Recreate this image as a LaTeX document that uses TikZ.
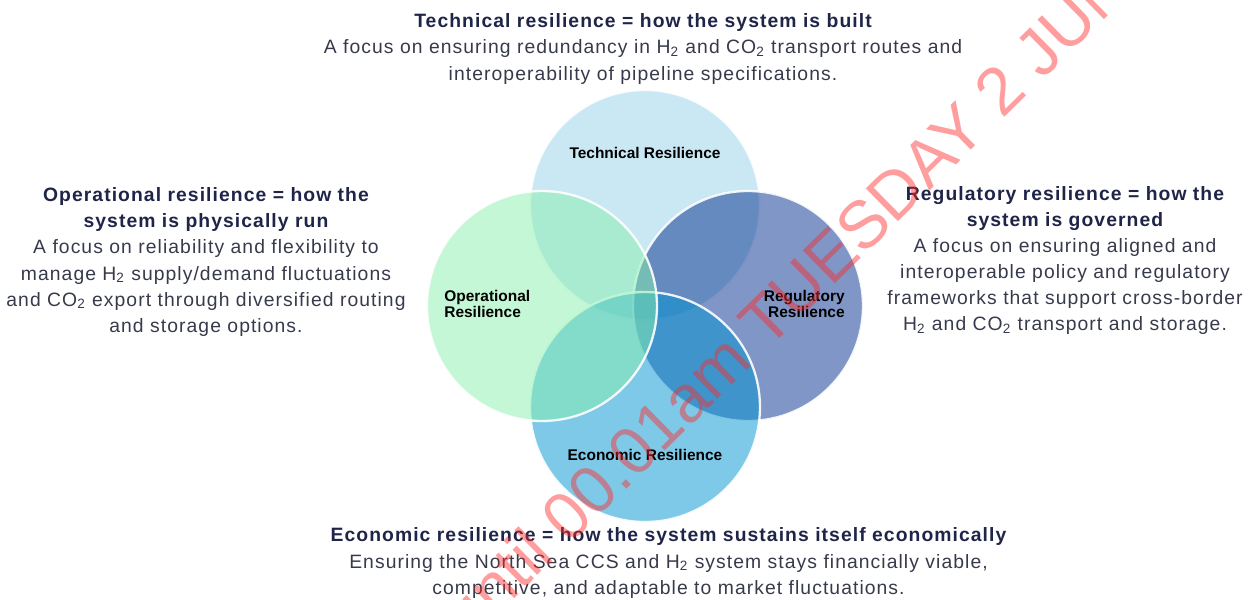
\documentclass[tikz,border=0pt]{standalone}
\usepackage{fontspec}
\setmainfont{Liberation Sans}
\newfontfamily\widefont[LetterSpace=5.5]{Liberation Sans}
\usetikzlibrary{positioning}

\definecolor{techblue}{RGB}{147,209,231}
\definecolor{regnavy}{RGB}{0,45,141}
\definecolor{econblue}{RGB}{0,147,209}
\definecolor{opmint}{RGB}{135,239,173}
\definecolor{headnavy}{RGB}{31,37,72}
\definecolor{bodygrey}{RGB}{55,58,75}
\definecolor{stampred}{RGB}{255,40,40}

\newcommand{\Htwo}{H\textsubscript{2}}
\newcommand{\COtwo}{CO\textsubscript{2}}
\newcommand{\hd}[1]{\textcolor{headnavy}{\bfseries #1}}

\tikzset{
  ring/.style  = {circle, draw=white, line width=1.3pt, fill opacity=0.5, draw opacity=0.9, minimum size=46mm, inner sep=0},
  lbl/.style   = {font=\fontsize{8.8}{9.4}\selectfont\bfseries, text=black, inner sep=0},
  blurb/.style = {align=center, text=bodygrey, inner sep=0, font=\widefont\fontsize{11}{14.8}\selectfont},
  wmark/.style = {text=stampred, text opacity=0.45, inner sep=0, font=\fontsize{38}{40}\selectfont}
}

\begin{document}
\begin{tikzpicture}

  \useasboundingbox (-12.9,-5.86) rectangle (12.1,6.12);
  \clip (-12.9,-5.86) rectangle (12.1,6.12);

  % circles
  \node[ring, fill=techblue] (tech) at ( 0.00, 2.02) {};
  \node[ring, fill=regnavy]  (reg)  at ( 2.06, 0.00) {};
  \node[ring, fill=econblue] (econ) at ( 0.00,-2.02) {};
  \node[ring, fill=opmint]   (oper) at (-2.06, 0.00) {};

  % labels inside
  \node[lbl]                         (techl) at ( 0.00, 3.06) {Technical Resilience};
  \node[lbl, anchor=west, align=left]  (operl) at (-4.02, 0.04) {Operational\\Resilience};
  \node[lbl, anchor=east, align=right] (regl)  at ( 4.00, 0.04) {Regulatory\\Resilience};
  \node[lbl]                         (econl) at ( 0.00,-2.98) {Economic Resilience};

  % text around
  \node[blurb] (techtxt) at (-0.04, 5.14) {\hd{Technical resilience = how the system is built}\\
    A focus on ensuring redundancy in \Htwo{} and \COtwo{} transport routes and\\
    interoperability of pipeline specifications.};
  \node[blurb] (opertxt) at (-8.78, 0.88) {\hd{Operational resilience = how the}\\
    \hd{system is physically run}\\
    A focus on reliability and flexibility to\\
    manage \Htwo{} supply/demand fluctuations\\
    and \COtwo{} export through diversified routing\\
    and storage options.};
  \node[blurb] (regtxt) at (8.40, 0.91) {\hd{Regulatory resilience = how the}\\
    \hd{system is governed}\\
    A focus on ensuring aligned and\\
    interoperable policy and regulatory\\
    frameworks that support cross-border\\
    \Htwo{} and \COtwo{} transport and storage.};
  \node[blurb] (econtxt) at (0.47,-5.14) {\hd{Economic resilience = how the system sustains itself economically}\\
    Ensuring the North Sea CCS and \Htwo{} system stays financially viable,\\
    competitive, and adaptable to market fluctuations.};

  % stamp
  \node[wmark, rotate=44.5] (stamp) at (3.12, 0.44) {until 00.01am TUESDAY 2 JUNE};

\end{tikzpicture}
\end{document}
